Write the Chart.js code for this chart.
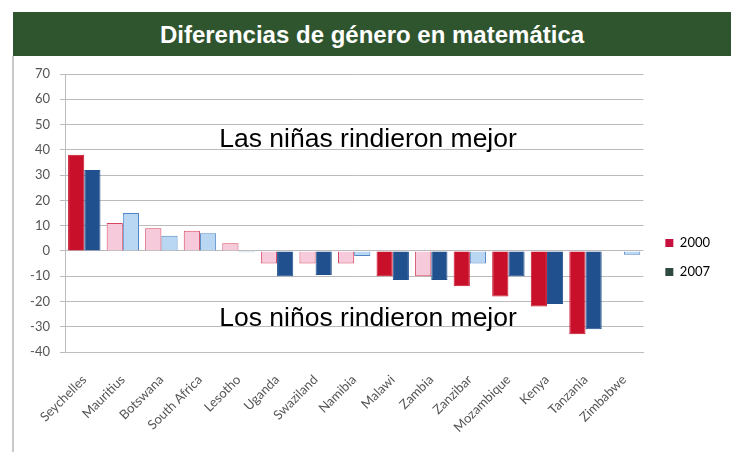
<!DOCTYPE html>
<html>
<head>
<meta charset="utf-8">
<script src="https://cdn.jsdelivr.net/npm/chart.js@4"></script>
<style>
  html, body { margin:0; padding:0; background:#fff; }
  body { width:731px; height:452px; position:relative; overflow:hidden; font-family:"Liberation Sans", Arial, sans-serif; }
  #hdr { position:absolute; left:13px; top:12px; width:718px; height:44px; background:#2F552F;
         color:#fff; font-weight:bold; font-size:24px; text-align:center; line-height:46px; }
  #panel { position:absolute; left:12px; top:56px; width:719px; height:396px; border-left:2px solid #C9C9C9; box-sizing:border-box; }
  #wrap { position:absolute; left:0; top:0; width:731px; height:452px; }
</style>
</head>
<body>
<div id="hdr">Diferencias de género en matemática</div>
<div id="panel"></div>
<div id="wrap"><canvas id="c" width="731" height="452"></canvas></div>
<script>
const categories = ["Seychelles","Mauritius","Botswana","South Africa","Lesotho","Uganda","Swaziland","Namibia","Malawi","Zambia","Zanzibar","Mozambique","Kenya","Tanzania","Zimbabwe"];
const values2000 = [38, 11, 9, 8, 3, -5, -5, -5, -10, -10, -14, -18, -22, -33, null];
const values2007 = [32, 15, 6, 7, -0.5, -10, -9.5, -2, -11.5, -11.5, -5, -10, -21, -31, -1.5];
// true = statistically significant (solid colour), false = pale
const signif2000 = [true, false, false, false, false, false, false, false, true, false, true, true, true, true, false];
const signif2007 = [true, false, false, false, false, true, true, false, true, true, false, true, true, true, false];
const seriesNames = ["2000", "2007"];
const yTicks = [70, 60, 50, 40, 30, 20, 10, 0, -10, -20, -30, -40];
const noteTop = "Las niñas rindieron mejor";
const noteBottom = "Los niños rindieron mejor";

const RED = "#C8102A", RED_L = "#F6CADB", RED_B = "#D6455F";
const BLUE = "#21508E", BLUE_L = "#B9D6F2", BLUE_B = "#4F86C6";
const LABEL_FONT = { family: "Lato, 'Open Sans', sans-serif", size: 13 };

const notes = {
  id: "notes",
  afterLayout(chart) {
    if (chart.legend) { chart.legend.left += 6; chart.legend.right += 6; }
  },
  afterDatasetsDraw(chart) {
    const ctx = chart.ctx, a = chart.chartArea, y = chart.scales.y;
    const cx = a.left + (a.right - a.left) * 0.524;
    ctx.save();
    ctx.fillStyle = "#000";
    ctx.font = "26.5px 'Liberation Sans', Arial, sans-serif";
    ctx.textAlign = "center";
    ctx.textBaseline = "alphabetic";
    ctx.fillText(noteTop, cx, y.getPixelForValue(41));
    ctx.fillText(noteBottom, cx, y.getPixelForValue(-29.6));
    ctx.restore();
  }
};

new Chart(document.getElementById("c"), {
  type: "bar",
  data: {
    labels: categories,
    datasets: [
      { label: seriesNames[0], data: values2000,
        backgroundColor: signif2000.map(s => s ? RED : RED_L),
        borderColor: signif2000.map(s => s ? RED : RED_B),
        borderWidth: 1 },
      { label: seriesNames[1], data: values2007,
        backgroundColor: signif2007.map(s => s ? BLUE : BLUE_L),
        borderColor: signif2007.map(s => s ? BLUE : BLUE_B),
        borderWidth: 1 }
    ]
  },
  options: {
    responsive: false,
    animation: false,
    devicePixelRatio: 1,
    layout: { padding: { left: 25, top: 74, right: 17, bottom: 11 } },
    datasets: { bar: { categoryPercentage: 0.84, barPercentage: 1.0 } },
    plugins: {
      title: { display: false },
      tooltip: { enabled: false },
      legend: {
        position: "right",
        labels: {
          boxWidth: 8, boxHeight: 8, padding: 16,
          color: "#555",
          font: LABEL_FONT,
          generateLabels: () => [
            { text: seriesNames[0], fillStyle: "#C8103E", strokeStyle: "#C8103E", lineWidth: 0, datasetIndex: 0 },
            { text: seriesNames[1], fillStyle: "#2F4A42", strokeStyle: "#2F4A42", lineWidth: 0, datasetIndex: 1 }
          ]
        }
      }
    },
    scales: {
      x: {
        afterFit: (s) => { s.paddingLeft = 0; s.paddingRight = 0; s.height = 89; },
        grid: { display: false, drawTicks: false },
        border: { display: true, color: "#BDBDBD" },
        ticks: {
          color: "#555", maxRotation: 45, minRotation: 45, padding: 20, autoSkip: false,
          font: LABEL_FONT
        }
      },
      y: {
        min: -40, max: 70,
        afterFit: (s) => { s.width = 40; },
        afterBuildTicks: (s) => { s.ticks = yTicks.map(v => ({ value: v })); },
        grid: { color: "#BBBBBB", lineWidth: 1, tickLength: 5 },
        border: { display: true, color: "#BBBBBB" },
        ticks: {
          color: "#555", padding: 10,
          font: LABEL_FONT
        }
      }
    }
  },
  plugins: [notes]
});
</script>
</body>
</html>
